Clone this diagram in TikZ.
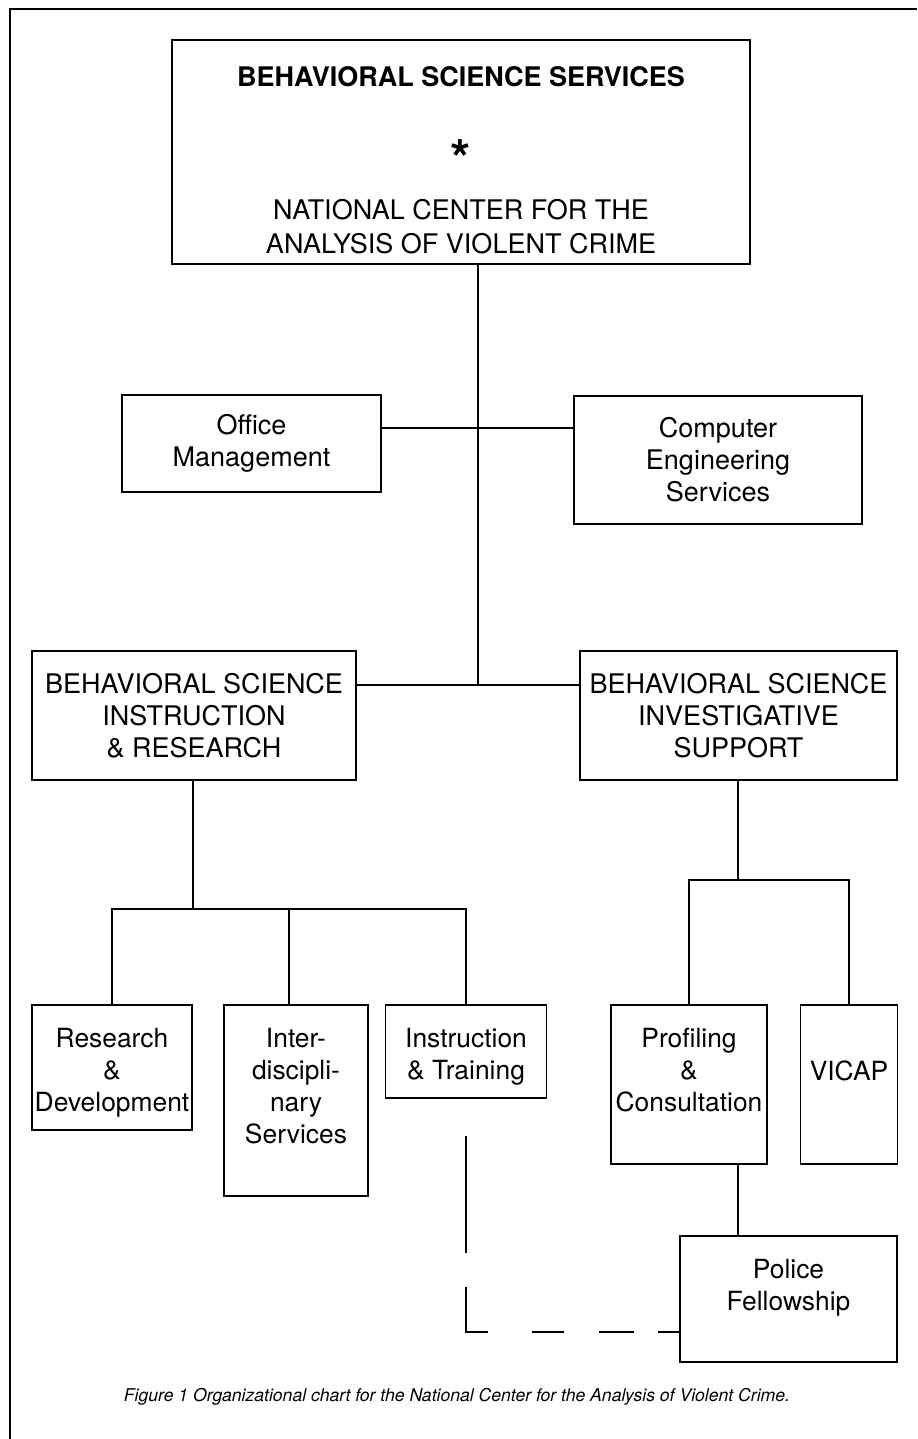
\documentclass[tikz,border=0pt]{standalone}
\usepackage{fontspec}
\setmainfont{TeX Gyre Heros}
\usetikzlibrary{positioning}

\tikzset{
  unit/.style={draw, line width=0.9pt, align=center, inner sep=0pt,
    font=\fontsize{13.5}{16}\selectfont},
  boxtext/.style={align=center, inner sep=0pt, anchor=north, yshift=-12pt,
    font=\fontsize{13.2}{16}\selectfont},
  link/.style={line width=0.9pt},
  dotted link/.style={line width=0.9pt,
    dash pattern=on 58.5pt off 17pt on 33.5pt off 22pt on 16pt off 17.5pt on 17.5pt off 12pt on 11.5pt},
}

\begin{document}
\begin{tikzpicture}[x=0.5pt,y=-0.5pt]
\useasboundingbox (0,0) rectangle (917,1439);
% page frame
\draw[line width=0.9pt] (917,9) -- (10,9) -- (10,1439);

% top of the chart
\node[unit, minimum width=289pt, minimum height=112pt,
  label={[boxtext, yshift=-1.5pt, font=\fontsize{13.5}{16}\selectfont]north:{\textbf{BEHAVIORAL SCIENCE SERVICES}\\[25.5pt]
   {\fontsize{26}{20}\selectfont\bfseries *}\\[5pt]
   NATIONAL CENTER FOR THE\\[1pt]ANALYSIS OF VIOLENT CRIME}}] (ncavc) at (461,152) {};

\node[unit, minimum width=129.5pt, minimum height=48.5pt] (office) at (251.5,443.5)
  {Office\\Management};
\node[unit, minimum width=144pt, minimum height=64pt] (computer) at (718,460)
  {Computer\\Engineering\\Services};

\node[unit, minimum width=162pt, minimum height=64.5pt] (bsir) at (194,715.5)
  {BEHAVIORAL SCIENCE\\INSTRUCTION\\\& RESEARCH};
\node[unit, minimum width=158.5pt, minimum height=64.5pt] (bsis) at (738.5,715.5)
  {BEHAVIORAL SCIENCE\\INVESTIGATIVE\\SUPPORT};

% units under instruction and research
\node[unit, minimum width=80pt, minimum height=62.5pt,
  label={[boxtext]north:{Research\\\&\\Development}}] (resdev) at (112,1067.5) {};
\node[unit, minimum width=72pt, minimum height=95.5pt,
  label={[boxtext]north:{Inter-\\discipli-\\nary\\Services}}] (inter) at (296,1100.5) {};
\node[unit, minimum width=80.5pt, minimum height=46.5pt,
  label={[boxtext]north:{Instruction\\\& Training}}] (instr) at (466,1051.5) {};

% units under investigative support
\node[unit, minimum width=78pt, minimum height=79.5pt,
  label={[boxtext]north:{Profiling\\\&\\Consultation}}] (profiling) at (689,1084.5) {};
\node[unit, minimum width=48.5pt, minimum height=79.5pt,
  label={[boxtext, yshift=-16pt]north:VICAP}] (vicap) at (849,1084.5) {};
\node[unit, minimum width=108.5pt, minimum height=63pt,
  label={[boxtext]north:{Police\\Fellowship}}] (police) at (788.5,1299) {};

\node[font=\fontsize{8.8}{10}\selectfont\itshape] (caption) at (457,1397)
  {Figure 1 Organizational chart for the National Center for the Analysis of Violent Crime.};

% connectors
\coordinate (trunk) at (478,685);
\coordinate (staff) at (478,428);
\coordinate (irsplit) at (193,909);
\coordinate (interdrop) at (289,909);
\coordinate (issplit) at (738,880);
\coordinate (fellow) at (466,1332);

\draw[link] (ncavc.south -| trunk) -- (trunk);
\draw[link] (office.east |- staff) -- (computer.west |- staff);
\draw[link] (bsir.east |- trunk) -- (bsis.west |- trunk);

\draw[link] (bsir.south -| irsplit) -- (irsplit);
\draw[link] (resdev.north) -- (resdev.north |- irsplit) -- (instr.north |- irsplit) -- (instr.north);
\draw[link] (interdrop) -- (inter.north -| interdrop);

\draw[link] (bsis.south -| issplit) -- (issplit);
\draw[link] (profiling.north) -- (profiling.north |- issplit) -- (vicap.north |- issplit) -- (vicap.north);
\draw[link] (profiling.south -| issplit) -- (police.north -| issplit);

\draw[dotted link] (instr.south) ++(0,37) -- (fellow) -- (police.west |- fellow);
\end{tikzpicture}
\end{document}
